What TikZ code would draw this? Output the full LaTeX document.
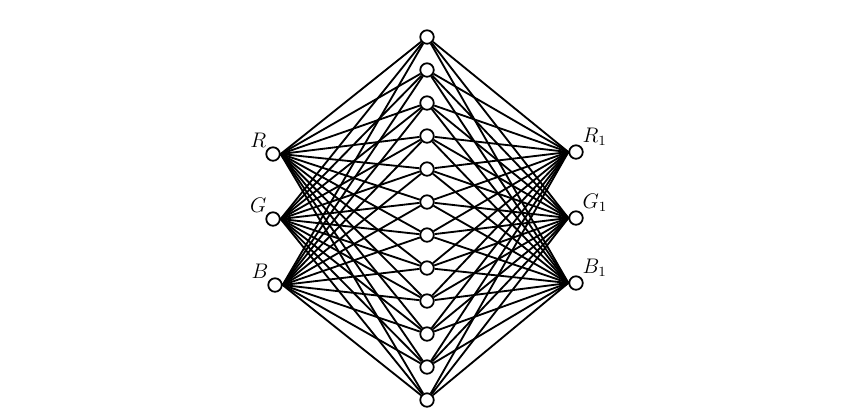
\documentclass[tikz,border=0pt]{standalone}
\begin{document}
\begin{tikzpicture}[
    x=0.02cm, y=-0.02cm,
    unit/.style = {draw, circle, fill=white, minimum size=0.27cm, inner sep=0pt, line width=1pt},
    link/.style = {line width=1.05pt},
    lab/.style = {font=\large, inner sep=0.5pt}
]
    \useasboundingbox (0,0) rectangle (861,417);

    % Couche d'entrée (Inputs)
    \node[unit, label={[lab]above left:$R$}] (R) at (273,154) {};
    \node[unit, label={[lab]above left:$G$}] (G) at (273,219) {};
    \node[unit, label={[lab]above left:$B$}] (B) at (275,285) {};

    % Couche cachée (Hidden)
    \foreach \i in {1,...,12}
        \node[unit] (H\i) at (427,{37+33*(\i-1)}) {};

    % Couche de sortie (Outputs)
    \node[unit, label={[lab]above right:$R_1$}] (R1) at (576,152) {};
    \node[unit, label={[lab]above right:$G_1$}] (G1) at (576,218) {};
    \node[unit, label={[lab]above right:$B_1$}] (B1) at (576,283) {};

    % Tracé des connexions (Edges)
    \foreach \i in {1,...,12} {
        \draw[link] (R.east) -- (H\i);
        \draw[link] (G.east) -- (H\i);
        \draw[link] (B.east) -- (H\i);
        \draw[link] (H\i) -- (R1.west);
        \draw[link] (H\i) -- (G1.west);
        \draw[link] (H\i) -- (B1.west);
    }

\end{tikzpicture}
\end{document}
